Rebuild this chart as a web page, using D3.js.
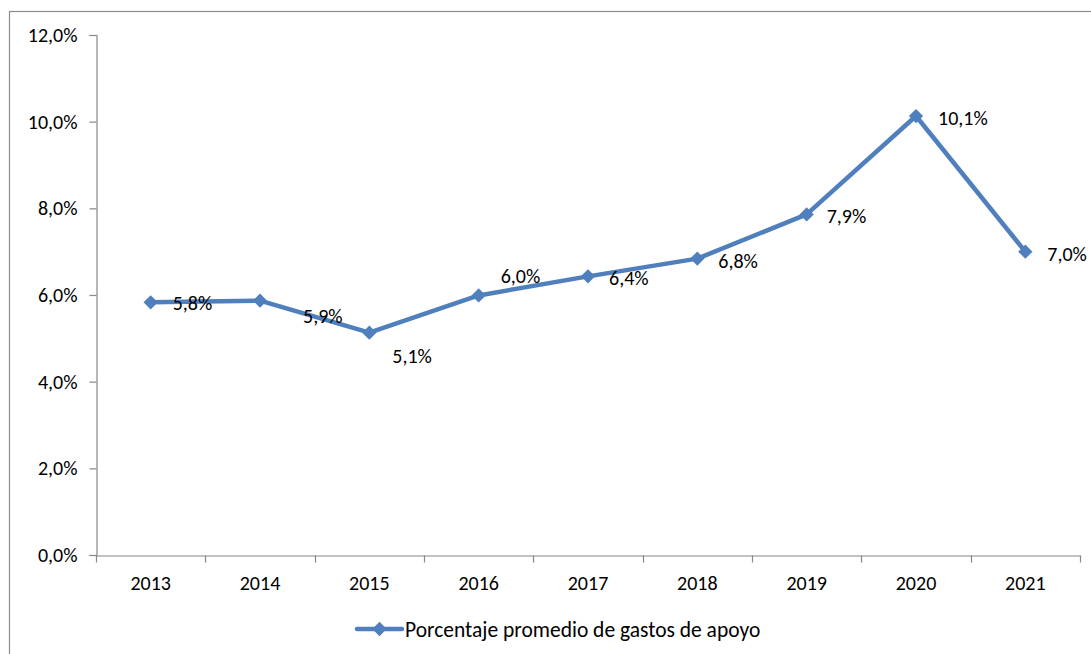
<!DOCTYPE html>
<html>
<head>
<meta charset="utf-8">
<script src="https://cdn.jsdelivr.net/npm/d3@7"></script>
<style>
  html, body { margin: 0; padding: 0; background: #fff; }
  svg { display: block; }
  text { font-family: Carlito, Calibri, Lato, sans-serif; fill: #000; }
</style>
</head>
<body>
<svg id="chart" width="1091" height="654"></svg>
<script>
// Average share of support expenses per year (percent)
const years = ["2013", "2014", "2015", "2016", "2017", "2018", "2019", "2020", "2021"];
const values = [5.83, 5.87, 5.13, 5.99, 6.43, 6.84, 7.86, 10.13, 7.00];
const yTicks = [0, 2, 4, 6, 8, 10, 12];
const seriesName = "Porcentaje promedio de gastos de apoyo";

// Label placement relative to each point (dx, dy in px)
const labelOffsets = [[22, 1], [43, 15], [23, 23], [22, -19], [21, 2], [21, 2], [20, 2], [22, 2], [22, 2]];

const color = "#4F7FBD";
const FS = 20;
const fmt = v => d3.format(".1f")(v).replace(".", ",") + "%";

const svg = d3.select("#chart");

// outer chart frame
svg.append("rect")
  .attr("x", 9.5).attr("y", 11.5)
  .attr("width", 1200).attr("height", 800)
  .attr("fill", "none").attr("stroke", "#8c8c8c").attr("stroke-width", 1.2);

const plot = { left: 96, right: 1080, top: 35, bottom: 555 };

const x = d3.scaleBand().domain(years).range([plot.left, plot.right]);
const y = d3.scaleLinear().domain([0, 12]).range([plot.bottom, plot.top]);

// y axis
const yAxis = svg.append("g")
  .attr("transform", `translate(${plot.left + 0.5},0)`)
  .call(d3.axisLeft(y).tickValues(yTicks).tickFormat(d => d3.format(".1f")(d).replace(".", ",") + "%").tickSizeOuter(0).tickSize(7).tickPadding(12));
yAxis.attr("font-size", null).attr("font-family", null);
yAxis.select(".domain").attr("stroke", "#888").attr("stroke-width", 1.2);
yAxis.selectAll(".tick line").attr("stroke", "#888").attr("stroke-width", 1.2);
yAxis.selectAll("text").style("font-size", FS + "px");

// x axis with tick marks at category boundaries
const xAxis = svg.append("g")
  .attr("transform", `translate(0,${plot.bottom + 0.5})`)
  .call(d3.axisBottom(x).tickSize(0).tickSizeOuter(0).tickPadding(20));
xAxis.attr("font-size", null).attr("font-family", null);
xAxis.select(".domain").attr("stroke", "#888").attr("stroke-width", 1.2);
xAxis.selectAll("text").style("font-size", FS + "px");
const bounds = years.map(d => x(d)).concat([x(years[years.length - 1]) + x.bandwidth()]);
xAxis.selectAll(".bound")
  .data(bounds)
  .enter().append("line")
  .attr("class", "bound")
  .attr("x1", d => Math.round(d) + 0.5).attr("x2", d => Math.round(d) + 0.5)
  .attr("y1", 0).attr("y2", 7)
  .attr("stroke", "#888").attr("stroke-width", 1.2);

const cx = d => x(d) + x.bandwidth() / 2;
const pts = years.map((d, i) => ({ year: d, v: values[i], off: labelOffsets[i] }));

// series line
svg.append("path")
  .datum(pts)
  .attr("fill", "none")
  .attr("stroke", color)
  .attr("stroke-width", 4.5)
  .attr("stroke-linejoin", "round")
  .attr("d", d3.line().x(d => cx(d.year)).y(d => y(d.v)));

// diamond markers
const diamond = d3.symbol().type(d3.symbolDiamond2).size(130);
svg.selectAll(".marker")
  .data(pts)
  .enter().append("path")
  .attr("class", "marker")
  .attr("transform", d => `translate(${cx(d.year)},${y(d.v)})`)
  .attr("d", diamond)
  .attr("fill", color);

// data labels
svg.selectAll(".label")
  .data(pts)
  .enter().append("text")
  .attr("class", "label")
  .attr("x", d => cx(d.year) + d.off[0])
  .attr("y", d => y(d.v) + d.off[1])
  .attr("dy", "0.35em")
  .style("font-size", FS + "px")
  .text(d => fmt(d.v));

// legend
const legend = svg.append("g").attr("transform", "translate(357,629)");
legend.append("line")
  .attr("x1", 0).attr("x2", 45).attr("y1", 0).attr("y2", 0)
  .attr("stroke", color).attr("stroke-width", 4.5).attr("stroke-linecap", "round");
legend.append("path").attr("transform", "translate(22.5,0)").attr("d", diamond).attr("fill", color);
legend.append("text").attr("x", 48).attr("y", 0).attr("dy", "0.35em").style("font-size", "21.5px").text(seriesName);
</script>
</body>
</html>
